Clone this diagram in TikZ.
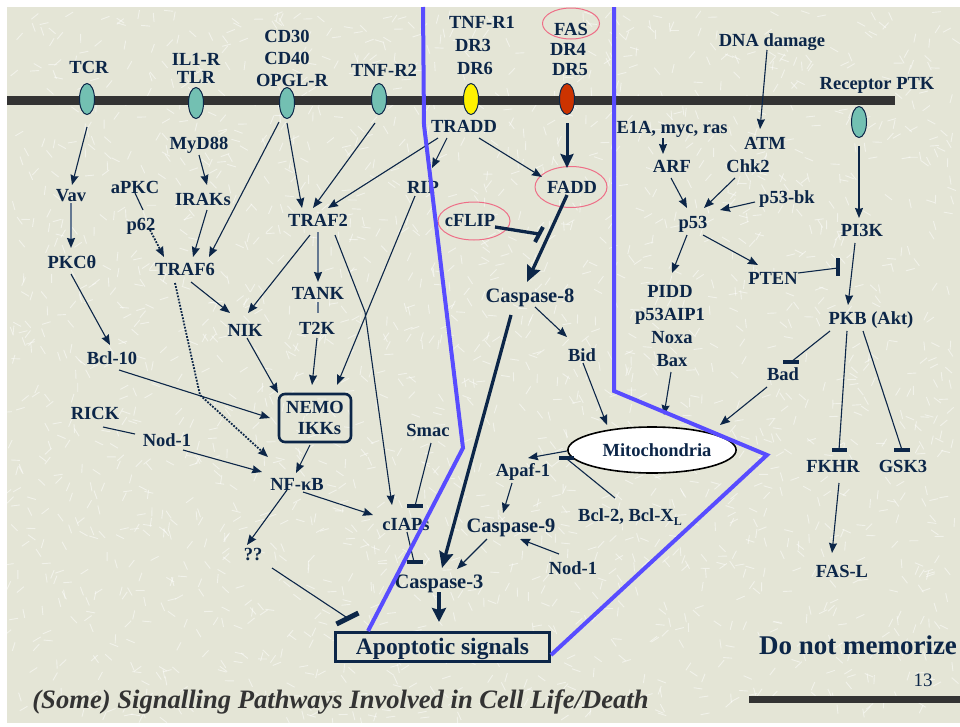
\documentclass[tikz,border=0pt]{standalone}
\usepackage{fontspec}
\setmainfont{Liberation Serif}
\usetikzlibrary{arrows.meta,shapes.geometric}
\definecolor{navy}{RGB}{12,38,72}
\definecolor{bgc}{RGB}{228,229,214}
\definecolor{blu}{RGB}{88,76,255}
\definecolor{tealc}{RGB}{115,192,178}
\definecolor{redr}{RGB}{204,51,0}
\definecolor{pinkc}{RGB}{238,110,135}
\definecolor{grayarr}{RGB}{100,120,145}
\definecolor{memb}{RGB}{51,51,51}
\begin{document}
\begin{tikzpicture}[x=1pt,y=-1pt,
 lbl/.style={font=\bfseries\fontsize{18.5}{20}\selectfont, text=navy, inner sep=2pt, text height=12.5pt, text depth=0pt},
 casp/.style={lbl, font=\bfseries\fontsize{20.5}{22}\selectfont, text height=13.5pt},
 rec/.style={ellipse, draw=navy, line width=1pt, minimum width=15pt, minimum height=31pt, inner sep=0pt},
 pinkel/.style={ellipse, draw=pinkc, line width=1pt, inner sep=0pt},
 tip/.style={-{Stealth[length=10pt,width=8pt,inset=1pt,color=navy]}},
 arr/.style={draw=navy, line width=1.1pt, tip},
 ln/.style={draw=navy, line width=1.1pt},
 dotarr/.style={arr, line width=1.8pt, dash pattern=on 1.8pt off 1.4pt},
 big/.style={draw=navy, line width=3.3pt, -{Stealth[length=16pt,width=14pt,inset=2pt]}},
 garr/.style={draw=grayarr, line width=1.6pt, tip},
 gline/.style={draw=grayarr, line width=1.6pt},
 tbar/.style={draw=navy, line width=4pt},
 blueline/.style={draw=blu, line width=4pt, line join=miter},
]
\useasboundingbox (0,0) rectangle (960,726);
\fill[white] (0,0) rectangle (960,726);
\fill[bgc] (7,7) rectangle (960,723);
% texture
\pgfmathsetseed{4321}
\foreach \i in {1,...,2200}{
  \pgfmathsetmacro{\tx}{10+945*rnd}
  \pgfmathsetmacro{\ty}{10+708*rnd}
  \pgfmathsetmacro{\ta}{180*rnd}
  \draw[white, opacity=0.5, line width=0.9pt] (\tx,\ty) -- ++(\ta:9);
}
% membrane
\draw[memb, line width=9pt] (7,100) -- (895,100);
\draw[memb, line width=7pt] (749,699) -- (960,699);

% receptor labels
\node[lbl] (tcr) at (89,67) {TCR};
\node[lbl] (il1) at (196,59) {IL1-R};
\node[lbl] (tlr) at (196,77) {TLR};
\node[lbl] (cd30) at (287,36) {CD30};
\node[lbl] (cd40) at (287,58) {CD40};
\node[lbl] (opgl) at (292,80) {OPGL-R};
\node[lbl] (tnfr2) at (384,70) {TNF-R2};
\node[lbl] (tnfr1) at (482,22) {TNF-R1};
\node[lbl] (dr3) at (473,45) {DR3};
\node[lbl] (dr6) at (475,68) {DR6};
\node[lbl] (fas) at (571,29) {FAS};
\node[pinkel, minimum width=57pt, minimum height=31pt] (fasring) at (571,23.5) {};
\node[lbl] (dr4) at (568,49.5) {DR4};
\node[lbl] (dr5) at (570,69.5) {DR5};
\node[lbl] (dna) at (772,40) {DNA damage};
\node[lbl] (ptk) at (877,83) {Receptor PTK};

% receptors
\node[rec, fill=tealc] (e1) at (87,99) {};
\node[rec, fill=tealc] (e2) at (196,103) {};
\node[rec, fill=tealc] (e3) at (287,103) {};
\node[rec, fill=tealc] (e4) at (379,99) {};
\node[rec, fill=yellow] (e5) at (471,99) {};
\node[rec, fill=redr] (e6) at (567,99) {};
\node[rec, fill=tealc] (e7) at (859,122) {};

% pathway nodes
\node[lbl] (vav) at (71,195) {Vav};
\node[lbl] (apkc) at (135,187) {aPKC};
\node[lbl] (p62) at (141,224) {p62};
\node[lbl] (myd88) at (199,143) {MyD88};
\node[lbl] (iraks) at (203,199) {IRAKs};
\node[lbl] (traf2) at (318,220) {TRAF2};
\node[lbl] (rip) at (423,187) {RIP};
\node[lbl] (tradd) at (464,126) {TRADD};
\node[lbl] (fadd) at (572,187) {FADD};
\node[pinkel, minimum width=72pt, minimum height=41pt] (faddring) at (571,187) {};
\node[lbl] (cflip) at (470,220) {cFLIP};
\node[pinkel, minimum width=72pt, minimum height=38pt] (cflipring) at (474,221) {};
\node[lbl] (pkc) at (72,262) {PKCθ};
\node[lbl] (traf6) at (185,269) {TRAF6};
\node[lbl] (tank) at (318,293) {TANK};
\node[lbl] (t2k) at (317,328) {T2K};
\node[lbl] (nik) at (245,330) {NIK};
\node[lbl] (bcl10) at (112,358) {Bcl-10};
\node[draw=navy, line width=2.6pt, rounded corners=6pt, minimum width=72pt, minimum height=48pt,
      align=center, font=\bfseries\fontsize{18.5}{21.5}\selectfont, text=navy, inner sep=0pt] (nemo) at (315,418) {NEMO\\\hspace*{9pt}IKKs};
\node[lbl] (rick) at (95,413) {RICK};
\node[lbl] (nod1a) at (167,440) {Nod-1};
\node[lbl] (nfkb) at (297,484) {NF-κB};
\node[lbl] (qq) at (253,554) {??};
\node[lbl] (ciaps) at (406,524) {cIAPs};
\node[lbl] (smac) at (428,430) {Smac};
\node[casp] (casp3) at (439,582) {Caspase-3};
\node[casp] (casp8) at (530,296) {Caspase-8};
\node[lbl] (bid) at (582,355) {Bid};
\node[ellipse, draw=black, line width=1.6pt, fill=white, minimum width=153pt, minimum height=46pt,
      font=\bfseries\fontsize{18.5}{20}\selectfont, text=navy, inner sep=0pt] (mito) at (652,450) {\hspace*{10pt}Mitochondria};
\node[lbl] (apaf) at (523,470) {Apaf-1};
\node[casp] (casp9) at (511,526) {Caspase-9};
\node[lbl] (nod1b) at (573,568) {Nod-1};
\node[lbl] (bcl2) at (630,515) {Bcl-2, Bcl-X\raisebox{-4pt}{\fontsize{12}{12}\selectfont L}};
\node[lbl] (e1a) at (672,127) {E1A, myc, ras};
\node[lbl] (atm) at (765,143) {ATM};
\node[lbl] (arf) at (672,166) {ARF};
\node[lbl] (chk2) at (748,166) {Chk2};
\node[lbl] (p53bk) at (787,197) {p53-bk};
\node[lbl] (p53) at (693,222) {p53};
\node[lbl] (pten) at (773,278) {PTEN};
\node[lbl] (pidd) at (670,291) {PIDD};
\node[lbl] (p53aip) at (670,314) {p53AIP1};
\node[lbl] (noxa) at (672,337) {Noxa};
\node[lbl] (bax) at (672,360) {Bax};
\node[lbl] (pi3k) at (862,230) {PI3K};
\node[lbl] (pkb) at (871,318) {PKB (Akt)};
\node[lbl] (bad) at (783,374) {Bad};
\node[lbl] (fkhr) at (833,466) {FKHR};
\node[lbl] (gsk3) at (903,466) {GSK3};
\node[lbl] (fasl) at (842,571) {FAS-L};

% connectors
\draw[arr] ([shift={(0,28)}]e1.center) -- ([shift={(1,-10)}]vav.center);
\draw[garr] ([shift={(0,8)}]vav.center) -- ([shift={(-1,-14)}]pkc.center);
\draw[arr] ([shift={(-1,12)}]pkc.center) -- ([shift={(-2,-13)}]bcl10.center);
\draw[ln] ([shift={(0,6)}]apkc.center) -- ([shift={(2,-14)}]p62.center);
\draw[dotarr] ([shift={(9,6)}]p62.center) -- ([shift={(-21,-12)}]traf6.center);
\draw[arr] ([shift={(0,12)}]myd88.center) -- ([shift={(4,-14)}]iraks.center);
\draw[arr] ([shift={(4,11)}]iraks.center) -- ([shift={(8,-12)}]traf6.center);
\draw[arr] ([shift={(-8,19)}]e3.center) -- ([shift={(24,-12)}]traf6.center);
\draw[arr] ([shift={(0,20)}]e3.center) -- ([shift={(-16,-12)}]traf2.center);
\draw[arr] ([shift={(-4,24)}]e4.center) -- ([shift={(-5,-12)}]traf2.center);
\draw[arr] ([shift={(-26,12)}]tradd.center) -- ([shift={(10,-12)}]traf2.center);
\draw[arr] ([shift={(-17,12)}]tradd.center) -- ([shift={(9,-19)}]rip.center);
\draw[arr] ([shift={(15,12)}]tradd.center) -- ([shift={(-30,-10)}]fadd.center);
\draw[big, line width=3pt, -{Stealth[length=14pt,width=13pt,inset=2pt]}] ([shift={(0,24)}]e6.center) -- ([shift={(-5,-19)}]fadd.center);
\draw[big] ([shift={(-5,8)}]fadd.center) -- ([shift={(-3,-14)}]casp8.center);
\draw[draw=navy, line width=3.3pt] ([shift={(25,7)}]cflip.center) -- ([shift={(69,14)}]cflip.center);
\draw[tbar] ([shift={(73,7)}]cflip.center) -- ([shift={(65,22)}]cflip.center);
\draw[arr] ([shift={(6,13)}]traf6.center) -- ([shift={(-15,-17)}]nik.center);
\draw[arr] ([shift={(-8,15)}]traf2.center) -- ([shift={(3,-17)}]nik.center);
\draw[garr] ([shift={(0,12)}]traf2.center) -- ([shift={(0,-11)}]tank.center);
\draw[gline] ([shift={(0,9)}]tank.center) -- ([shift={(1,-15)}]t2k.center);
\draw[arr] ([shift={(0,10)}]t2k.center) -- ([shift={(-3,-33)}]nemo.center);
\draw[arr] ([shift={(-8,9)}]rip.center) -- ([shift={(22,-33)}]nemo.center);
\draw[arr] ([shift={(17,15)}]traf2.center) -- ++(30,77) -- ([shift={(-14,-19)}]ciaps.center);
\draw[arr] ([shift={(2,8)}]nik.center) -- ([shift={(-37,-25)}]nemo.center);
\draw[arr] ([shift={(7,12)}]bcl10.center) -- ([shift={(-45,0)}]nemo.center);
\draw[dotarr] ([shift={(-10,14)}]traf6.center) -- ++(25,112) -- ([shift={(-29,-27)}]nfkb.center);
\draw[ln] ([shift={(8,14)}]rick.center) -- ([shift={(-32,-6)}]nod1a.center);
\draw[arr] ([shift={(16,10)}]nod1a.center) -- ([shift={(-35,-12)}]nfkb.center);
\draw[arr] ([shift={(-5,27)}]nemo.center) -- ([shift={(-1,-11)}]nfkb.center);
\draw[arr] ([shift={(-10,6)}]nfkb.center) -- ([shift={(-6,-9)}]qq.center);
\draw[arr] ([shift={(6,8)}]nfkb.center) -- ([shift={(-33,-9)}]ciaps.center);
\draw[ln] ([shift={(3,13)}]smac.center) -- ([shift={(9,-18)}]ciaps.center);
\draw[tbar] ([shift={(1,-18)}]ciaps.center) -- ([shift={(17,-18)}]ciaps.center);
\draw[ln] ([shift={(1,8)}]ciaps.center) -- ([shift={(-25,-20)}]casp3.center);
\draw[tbar] ([shift={(-32,-20)}]casp3.center) -- ([shift={(-16,-20)}]casp3.center);
\draw[big] ([shift={(-19,19)}]casp8.center) -- ([shift={(3,-14)}]casp3.center);
\draw[arr] ([shift={(5,11)}]casp8.center) -- ([shift={(-15,-18)}]bid.center);
\draw[arr] ([shift={(1,8)}]bid.center) -- ([shift={(-45,-25)}]mito.center);
\draw[arr] ([shift={(-1,12)}]bax.center) -- ([shift={(12,-35)}]mito.center);
\draw[arr] ([shift={(-16,13)}]bad.center) -- ([shift={(68,-25)}]mito.center);
\draw[arr] ([shift={(-85,1)}]mito.center) -- ([shift={(5,-12)}]apaf.center);
\draw[ln] ([shift={(-15,-17)}]bcl2.center) -- ([shift={(-85,9)}]mito.center);
\draw[tbar] ([shift={(-93,8)}]mito.center) -- ([shift={(-78,8)}]mito.center);
\draw[arr] ([shift={(-11,13)}]apaf.center) -- ([shift={(-8,-13)}]casp9.center);
\draw[arr] ([shift={(-24,13)}]casp9.center) -- ([shift={(18,-13)}]casp3.center);
\draw[arr] ([shift={(-14,-14)}]nod1b.center) -- ([shift={(9,13)}]casp9.center);
\draw[arr] ([shift={(-9,11)}]e1a.center) -- ([shift={(-9,-12)}]arf.center);
\draw[arr] ([shift={(-5,10)}]dna.center) -- ([shift={(-5,-14)}]atm.center);
\draw[arr] ([shift={(-1,12)}]arf.center) -- ([shift={(-6,-14)}]p53.center);
\draw[arr] ([shift={(-13,12)}]chk2.center) -- ([shift={(11,-14)}]p53.center);
\draw[arr] ([shift={(-32,5)}]p53bk.center) -- ([shift={(27,-12)}]p53.center);
\draw[arr] ([shift={(-6,13)}]p53.center) -- ([shift={(2,-18)}]pidd.center);
\draw[arr] ([shift={(10,13)}]p53.center) -- ([shift={(-15,-13)}]pten.center);
\draw[ln] ([shift={(25,-5)}]pten.center) -- ([shift={(65,-10)}]pten.center);
\draw[tbar] ([shift={(65,-20)}]pten.center) -- ([shift={(65,-2)}]pten.center);
\draw[arr] ([shift={(0,24)}]e7.center) -- ([shift={(-3,-12)}]pi3k.center);
\draw[arr] ([shift={(-7,13)}]pi3k.center) -- ([shift={(-23,-13)}]pkb.center);
\draw[ln] ([shift={(-41,13)}]pkb.center) -- ([shift={(8,-12)}]bad.center);
\draw[tbar] ([shift={(0,-12)}]bad.center) -- ([shift={(16,-12)}]bad.center);
\draw[ln] ([shift={(-24,13)}]pkb.center) -- ([shift={(6,-16)}]fkhr.center);
\draw[tbar] ([shift={(-1,-16)}]fkhr.center) -- ([shift={(14,-16)}]fkhr.center);
\draw[ln] ([shift={(-8,13)}]pkb.center) -- ([shift={(-1,-16)}]gsk3.center);
\draw[tbar] ([shift={(-9,-16)}]gsk3.center) -- ([shift={(7,-16)}]gsk3.center);
\draw[arr] ([shift={(6,17)}]fkhr.center) -- ([shift={(-10,-18)}]fasl.center);

% apoptotic signals box
\node[draw=navy, line width=3pt, fill=bgc, minimum width=214pt, minimum height=29pt, inner sep=0pt,
      font=\bfseries\fontsize{23.5}{25}\selectfont, text=navy, text height=15.5pt, text depth=0pt] (apop) at (442.5,647) {Apoptotic signals};
\draw[big, line width=3.2pt, -{Stealth[length=14pt,width=14pt,inset=2pt]}] ([shift={(0,10)}]casp3.center) -- ([shift={(-3.5,-25)}]apop.center);
\draw[ln] ([shift={(19,14)}]qq.center) -- ([shift={(-95,-29)}]apop.center);
\draw[draw=navy, line width=5pt] ([shift={(-106,-23)}]apop.center) -- ([shift={(-84,-34)}]apop.center);

% blue compartment lines
\draw[blueline] (423,7) -- (424,125) -- (463,448) -- (368,631);
\draw[blueline] (614,7) -- (614,391) -- (767,455) -- (551,655);

% captions
\node[font=\bfseries\itshape\fontsize{26.6}{28}\selectfont, text=memb, inner sep=0pt, text height=18pt, text depth=0pt] (title) at (340.5,699) {(Some) Signalling Pathways Involved in Cell Life/Death};
\node[font=\bfseries\fontsize{27}{29}\selectfont, text=navy, inner sep=0pt, text height=18pt, text depth=0pt] (dnm) at (858,645) {Do not memorize};
\node[font=\fontsize{19}{20}\selectfont, text=navy, inner sep=0pt, text height=13pt, text depth=0pt] (num) at (923,680) {13};
\end{tikzpicture}
\end{document}
